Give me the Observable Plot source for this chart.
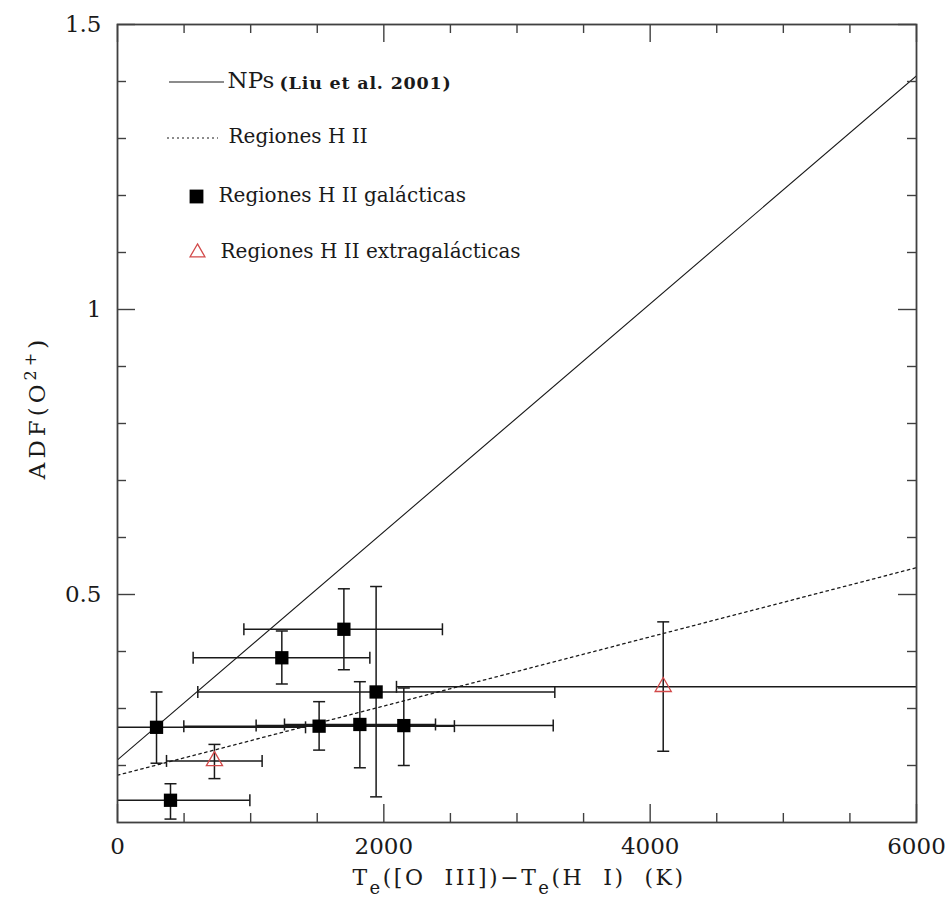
<!DOCTYPE html>
<html><head><meta charset="utf-8">
<script src="https://cdn.jsdelivr.net/npm/d3@7"></script>
<script src="https://cdn.jsdelivr.net/npm/@observablehq/plot@0.6"></script>
<style>html,body{margin:0;padding:0;background:#fff;}</style>
</head><body><div id="chart"></div>
<script>
// ---- data ----
// Galactic H II regions (filled squares)
const galX   = [293, 1514, 1820, 2150, 1942, 1700, 1234, 398];
const galY   = [0.267, 0.269, 0.272, 0.270, 0.329, 0.439, 0.389, 0.139];
const galXLo = [-826, 498, 1254, 1041, 603, 949, 568, -198];
const galXHi = [1412, 2530, 2388, 3272, 3284, 2440, 1895, 994];
const galYLo = [0.204, 0.227, 0.196, 0.200, 0.145, 0.368, 0.343, 0.106];
const galYHi = [0.329, 0.312, 0.347, 0.336, 0.514, 0.510, 0.436, 0.168];
// Extragalactic H II regions (open red triangles)
const extX   = [728, 4098];
const extY   = [0.208, 0.338];
const extXLo = [368, 2095];
const extXHi = [1086, 6101];
const extYLo = [0.177, 0.225];
const extYHi = [0.237, 0.452];
// Relations: endpoints of the two straight lines
const relX = [0, 6000];
const npY  = [0.21, 1.41];   // NPs (Liu et al. 2001)
const hiiY = [0.183, 0.547]; // Regiones H II
// Tick values and labels
const xMajor = [0, 2000, 4000, 6000];
const xMinor = [500, 1000, 1500, 2500, 3000, 3500, 4500, 5000, 5500];
const yMajor = [0.5, 1, 1.5];
const yMinor = [0.2, 0.3, 0.4, 0.6, 0.7, 0.8, 0.9, 1.1, 1.2, 1.3, 1.4];
// Axis titles, as [text, role] pieces (role: 0 normal, 1 subscript, 2 superscript)
const xLabelParts = [["T", 0], ["e", 1], ["([O\u00a0\u00a0III])\u2212T", 0], ["e", 1], ["(H\u00a0\u00a0I)\u00a0\u00a0(K)", 0]];
const yLabelParts = [["ADF(O", 0], ["2+", 2], [")", 0]];
const legendLabels = ["NPs", "(Liu et al. 2001)", "Regiones H II", "Regiones H II galácticas", "Regiones H II extragalácticas"];

// ---- build tables ----
const gal = galX.map((x, i) => ({x, y: galY[i], xlo: galXLo[i], xhi: galXHi[i], ylo: galYLo[i], yhi: galYHi[i]}));
const ext = extX.map((x, i) => ({x, y: extY[i], xlo: extXLo[i], xhi: extXHi[i], ylo: extYLo[i], yhi: extYHi[i]}));
const all = gal.concat(ext);
const np = relX.map((x, i) => ({x, y: npY[i]}));
const hii = relX.map((x, i) => ({x, y: hiiY[i]}));
const xLabelText = xLabelParts.map(p => p[0]).join("");
const yLabelText = yLabelParts.map(p => p[0]).join("");

const W = 948, H = 905, mL = 117, mR = 32, mT = 24, mB = 83;
const innerW = W - mL - mR, innerH = H - mT - mB;
const serif = "DejaVu Serif";
const ink = "#1a1a1a", frameInk = "#404040", red = "#d24a4a";
const minorLen = 9, majorLen = 18;

const capV = {draw(ctx, size) { const h = Math.sqrt(size / Math.PI); ctx.moveTo(0, -h); ctx.lineTo(0, h); }};
const capH = {draw(ctx, size) { const h = Math.sqrt(size / Math.PI); ctx.moveTo(-h, 0); ctx.lineTo(h, 0); }};

function legendSamples(index, scales, values, dims) {
  const g = d3.create("svg:g");
  const x0 = dims.marginLeft, y0 = dims.marginTop;
  g.append("line").attr("x1", x0 + 52).attr("x2", x0 + 107).attr("y1", y0 + 58).attr("y2", y0 + 58)
    .attr("stroke", ink).attr("stroke-width", 1.2);
  g.append("line").attr("x1", x0 + 50).attr("x2", x0 + 101).attr("y1", y0 + 114).attr("y2", y0 + 114)
    .attr("stroke", ink).attr("stroke-width", 1.2).attr("stroke-dasharray", "2,3");
  return g.node();
}

const legendText = (label, dx, dy, size, weight) =>
  Plot.text([label], {text: d => d, frameAnchor: "top-left", dx, dy, textAnchor: "start", lineAnchor: "middle",
    fontSize: size, fontWeight: weight || "normal", fontFamily: serif, fill: ink});

const plot = Plot.plot({
  width: W, height: H,
  marginLeft: mL, marginRight: mR, marginTop: mT, marginBottom: mB,
  style: {background: "#fff", fontFamily: serif, color: ink},
  x: {domain: [0, 6000], axis: null},
  y: {domain: [0.1, 1.5], axis: null},
  marks: [
    // relations
    Plot.line(np, {x: "x", y: "y", stroke: ink, strokeWidth: 1.1, clip: true}),
    Plot.line(hii, {x: "x", y: "y", stroke: ink, strokeWidth: 1.3, strokeDasharray: "2.5,3.5", clip: true}),
    // error bars
    Plot.link(all, {x1: "xlo", x2: "xhi", y1: "y", y2: "y", stroke: ink, strokeWidth: 1.5, clip: true}),
    Plot.link(all, {x1: "x", x2: "x", y1: "ylo", y2: "yhi", stroke: ink, strokeWidth: 1.5, clip: true}),
    Plot.dot(all, {x: "xlo", y: "y", symbol: capV, r: 6, stroke: ink, strokeWidth: 1.5, fill: "none", clip: true}),
    Plot.dot(all, {x: "xhi", y: "y", symbol: capV, r: 6, stroke: ink, strokeWidth: 1.5, fill: "none", clip: true}),
    Plot.dot(all, {x: "x", y: "ylo", symbol: capH, r: 6, stroke: ink, strokeWidth: 1.5, fill: "none", clip: true}),
    Plot.dot(all, {x: "x", y: "yhi", symbol: capH, r: 6, stroke: ink, strokeWidth: 1.5, fill: "none", clip: true}),
    // points
    Plot.dot(gal, {x: "x", y: "y", symbol: "square", r: 7.5, fill: "#000", stroke: "none"}),
    Plot.dot(ext, {x: "x", y: "y", symbol: "triangle", r: 6, stroke: red, strokeWidth: 1.3, fill: "none"}),
    // frame and inward ticks
    Plot.frame({stroke: frameInk, strokeWidth: 1.8}),
    Plot.tickX(xMinor, {x: d => d, stroke: frameInk, strokeWidth: 1.4, insetTop: innerH - minorLen}),
    Plot.tickX(xMajor, {x: d => d, stroke: frameInk, strokeWidth: 1.4, insetTop: innerH - majorLen}),
    Plot.tickX(xMinor, {x: d => d, stroke: frameInk, strokeWidth: 1.4, insetBottom: innerH - minorLen}),
    Plot.tickX(xMajor, {x: d => d, stroke: frameInk, strokeWidth: 1.4, insetBottom: innerH - majorLen}),
    Plot.tickY(yMinor, {y: d => d, stroke: frameInk, strokeWidth: 1.4, insetRight: innerW - minorLen}),
    Plot.tickY(yMajor, {y: d => d, stroke: frameInk, strokeWidth: 1.4, insetRight: innerW - majorLen}),
    Plot.tickY(yMinor, {y: d => d, stroke: frameInk, strokeWidth: 1.4, insetLeft: innerW - minorLen}),
    Plot.tickY(yMajor, {y: d => d, stroke: frameInk, strokeWidth: 1.4, insetLeft: innerW - majorLen}),
    // axes tick labels
    Plot.axisX(xMajor, {tickSize: 0, tickPadding: 15, fontSize: 23, fontFamily: serif, label: null, tickFormat: d => String(d), fill: ink}),
    Plot.axisY(yMajor, {tickSize: 0, tickPadding: 16, fontSize: 23, fontFamily: serif, label: null, tickFormat: d => String(d), fill: ink}),
    // axis titles (pieces turned into tspans below)
    Plot.text([xLabelText], {text: d => d, frameAnchor: "bottom", textAnchor: "middle", lineAnchor: "middle",
      dx: 2, dy: 55, fontSize: 22, fontFamily: serif, fill: ink}),
    Plot.text([yLabelText], {text: d => d, frameAnchor: "left", textAnchor: "middle", lineAnchor: "middle",
      rotate: -90, dx: -80, dy: -16, fontSize: 23, fontFamily: serif, fill: ink}),
    // legend
    legendSamples,
    legendText(legendLabels[0], 110, 56, 23),
    legendText(legendLabels[1], 162, 59, 17.5, "bold"),
    legendText(legendLabels[2], 111, 112, 20),
    Plot.dot([0], {frameAnchor: "top-left", dx: 79, dy: 172, symbol: "square", r: 7.8, fill: "#000", stroke: "none"}),
    legendText(legendLabels[3], 101, 171, 20),
    Plot.dot([0], {frameAnchor: "top-left", dx: 80, dy: 228, symbol: "triangle", r: 5.5, stroke: red, strokeWidth: 1.3, fill: "none"}),
    legendText(legendLabels[4], 103, 227, 20)
  ]
});

// Rich axis titles: rebuild the text as tspans (sub/superscripts)
const findText = s => d3.select(plot).selectAll("text").filter(function() { return this.textContent === s; });
function richText(sel, parts, sub) {
  sel.text(null);
  let shift = 0;
  for (const [s, role] of parts) {
    const target = role === 1 ? sub.dy : role === 2 ? -sub.up : 0;
    const t = sel.append("tspan").attr("dy", target - shift).text(s);
    if (role) t.attr("font-size", sub.size);
    shift = target;
  }
}
const xt = findText(xLabelText);
richText(xt, xLabelParts, {dy: 9, up: 0, size: 18});
xt.attr("letter-spacing", "2.5px");
const yt = findText(yLabelText);
richText(yt, yLabelParts, {dy: 0, up: 9, size: 16});
yt.attr("letter-spacing", "4px");
findText(legendLabels[1]).attr("letter-spacing", "0.8px");
document.getElementById("chart").appendChild(plot);
</script>
</body></html>
